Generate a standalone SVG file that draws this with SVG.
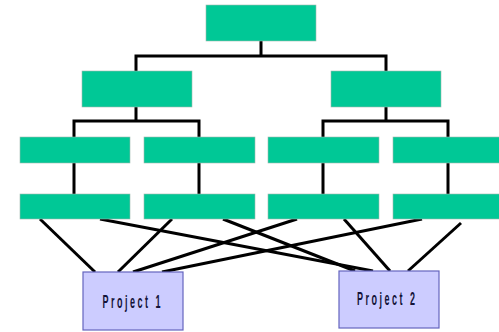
<svg xmlns="http://www.w3.org/2000/svg" width="499" height="332" viewBox="0 0 499 332">
  <style>
    .unit { fill: #00C896; stroke: #9FB8AE; stroke-width: 0.6; }
    .proj { fill: #CCCCFF; stroke: #6464BE; stroke-width: 1.2; }
    .wire { stroke: #000; stroke-width: 3; fill: none; stroke-linecap: butt; }
    .label { font-family: "Liberation Sans", "DejaVu Sans", sans-serif; font-size: 18px; font-weight: bold; letter-spacing: 5px; fill: #14143A; }
  </style>
  <rect width="499" height="332" fill="#FFFFFF"/>

  <g id="connectors">
    <!-- tree buses -->
    <path class="wire" d="M261,41 V56 M136,56 H386 M136,54.5 V71 M386,54.5 V71"/>
    <path class="wire" d="M136,107 V121 M74,121 H199 M74,119.5 V194 M199,119.5 V194"/>
    <path class="wire" d="M386,107 V121 M323,121 H448 M323,119.5 V194 M448,119.5 V194"/>
    <!-- links to projects -->
    <path class="wire" d="M40,219 L95,272"/>
    <path class="wire" d="M172,219 L118,272"/>
    <path class="wire" d="M297,219 L133,272"/>
    <path class="wire" d="M422,219 L162,272"/>
    <path class="wire" d="M100,219 L373,271"/>
    <path class="wire" d="M223,219 L355,271"/>
    <path class="wire" d="M344,219 L390,271"/>
    <path class="wire" d="M461,223 L408,271"/>
  </g>

  <g id="top"><rect class="unit" x="206" y="5" width="110" height="36"/></g>
  <g id="mid-left"><rect class="unit" x="82" y="71" width="110" height="36"/></g>
  <g id="mid-right"><rect class="unit" x="331" y="71" width="110" height="36"/></g>

  <g id="row3-a"><rect class="unit" x="20" y="137" width="110" height="26"/></g>
  <g id="row3-b"><rect class="unit" x="144" y="137" width="111" height="26"/></g>
  <g id="row3-c"><rect class="unit" x="268" y="137" width="111" height="26"/></g>
  <g id="row3-d"><rect class="unit" x="393" y="137" width="110" height="26"/></g>

  <g id="row4-a"><rect class="unit" x="20" y="194" width="110" height="25"/></g>
  <g id="row4-b"><rect class="unit" x="144" y="194" width="111" height="25"/></g>
  <g id="row4-c"><rect class="unit" x="268" y="194" width="111" height="25"/></g>
  <g id="row4-d"><rect class="unit" x="393" y="194" width="110" height="25"/></g>

  <g id="project-1">
    <rect class="proj" x="83" y="272" width="100" height="58"/>
    <text class="label" transform="translate(102.5,308) scale(0.5,1)">Project 1</text>
  </g>
  <g id="project-2">
    <rect class="proj" x="339" y="271" width="100" height="57"/>
    <text class="label" transform="translate(357,304.5) scale(0.5,1)">Project 2</text>
  </g>
</svg>
